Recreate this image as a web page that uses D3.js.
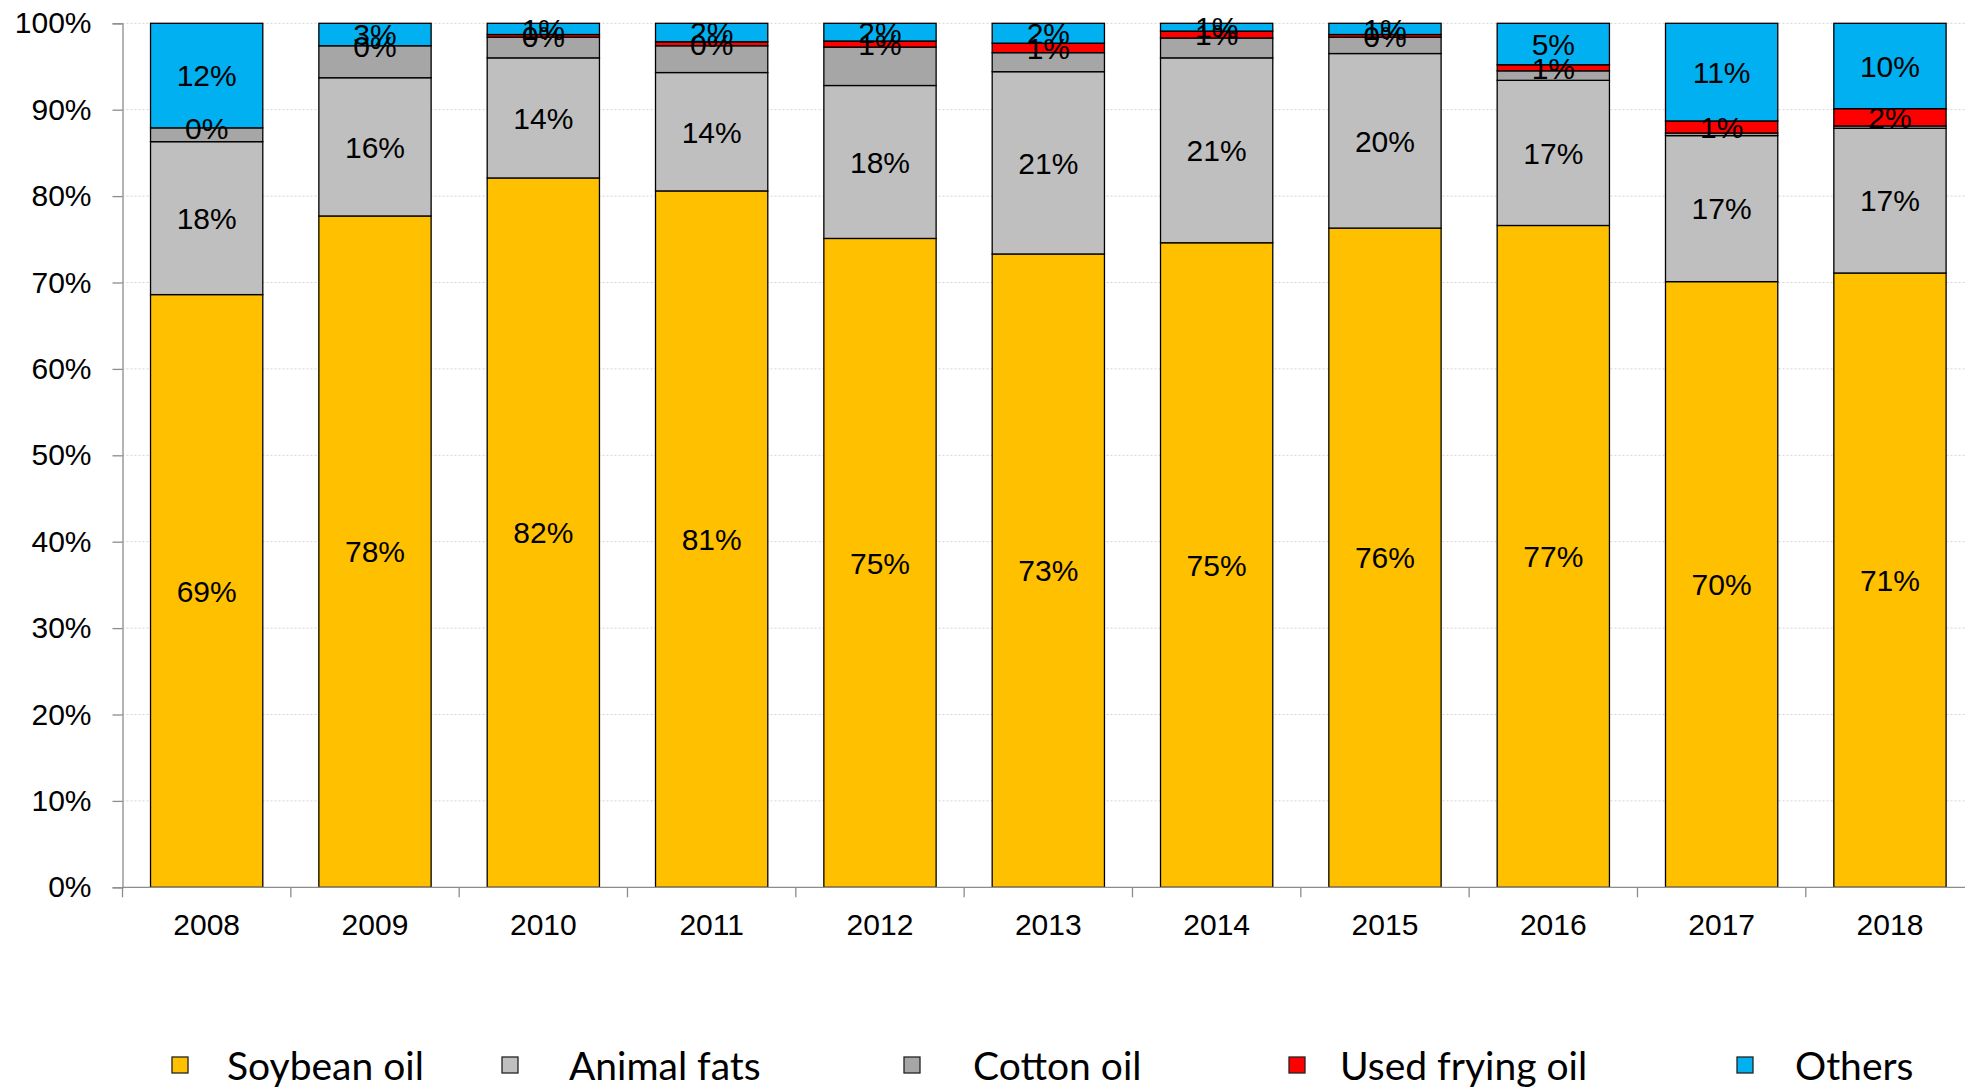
<!DOCTYPE html>
<html>
<head>
<meta charset="utf-8">
<script src="https://cdn.jsdelivr.net/npm/d3@7"></script>
<style>
  html, body { margin: 0; padding: 0; background: #fff; }
  svg { display: block; }
</style>
</head>
<body>
<svg id="chart" width="1965" height="1089"></svg>
<script>
// ---- data ----
const years = ["2008","2009","2010","2011","2012","2013","2014","2015","2016","2017","2018"];
const seriesNames = ["Soybean oil","Animal fats","Cotton oil","Used frying oil","Others"];
const soybeanOil    = [68.6, 77.7, 82.1, 80.6, 75.1, 73.3, 74.6, 76.3, 76.6, 70.1, 71.1];
const animalFats    = [17.7, 16.0, 13.9, 13.7, 17.7, 21.1, 21.4, 20.2, 16.8, 16.9, 16.75];
const cottonOil     = [1.6, 3.7, 2.4, 3.1, 4.45, 2.2, 2.3, 1.9, 1.1, 0.3, 0.27];
const usedFryingOil = [0.0, 0.0, 0.3, 0.46, 0.7, 1.1, 0.8, 0.3, 0.7, 1.4, 2.0];
const others        = [12.1, 2.6, 1.3, 2.14, 2.05, 2.3, 0.9, 1.3, 4.8, 11.3, 9.88];
const yTicks = [0,10,20,30,40,50,60,70,80,90,100];
const labelledSeries = ["Soybean oil","Animal fats","Used frying oil","Others"];

// ---- styles / layout ----
const colors = ["#FFC000","#BFBFBF","#A6A6A6","#FF0000","#00B0F0"];
const legendX = [172, 502, 904, 1289, 1737];
const legendTextX = [227, 569, 973, 1340, 1795];

const svg = d3.select("#chart");
const x0 = 122.5, step = 168.33, yTop = 23.3, yBot = 887.3;

const x = d3.scaleBand().domain(years)
  .range([x0, x0 + step * years.length])
  .paddingInner(0.333).paddingOuter(0.1665);
const y = d3.scaleLinear().domain([0,100]).range([yBot, yTop]);

const table = years.map((yr, i) => ({
  year: yr,
  "Soybean oil": soybeanOil[i],
  "Animal fats": animalFats[i],
  "Cotton oil": cottonOil[i],
  "Used frying oil": usedFryingOil[i],
  "Others": others[i]
}));
const stacked = d3.stack().keys(seriesNames)(table);

// gridlines
svg.append("g").selectAll("line").data(yTicks.filter(t => t > 0)).join("line")
  .attr("x1", x0).attr("x2", 1965)
  .attr("y1", d => y(d)).attr("y2", d => y(d))
  .attr("stroke", "#D4D4D4").attr("stroke-width", 1)
  .attr("stroke-dasharray", "2,2");

// bars
const gBars = svg.append("g");
stacked.forEach((s, si) => {
  gBars.append("g").selectAll("rect").data(s).join("rect")
    .attr("x", d => x(d.data.year))
    .attr("width", x.bandwidth())
    .attr("y", d => y(d[1]))
    .attr("height", d => Math.max(0, y(d[0]) - y(d[1])))
    .attr("fill", colors[si])
    .attr("stroke", "#000")
    .attr("stroke-width", 1.3);
});

// y axis
const yAxis = d3.axisLeft(y).tickValues(yTicks).tickFormat(d => d + "%").tickSize(10).tickPadding(21);
const gy = svg.append("g").attr("transform", `translate(${x0},0)`).call(yAxis);
gy.select(".domain").attr("stroke", "#8C8C8C").attr("stroke-width", 1.3);
gy.selectAll(".tick line").attr("stroke", "#8C8C8C").attr("stroke-width", 1.3);
gy.selectAll(".tick text").attr("font-family", "'Liberation Sans', Arial, sans-serif")
  .attr("font-size", 30).attr("fill", "#000");

// x axis
const xAxis = d3.axisBottom(x).tickSize(0).tickPadding(0);
const gx = svg.append("g").attr("transform", `translate(0,${yBot})`).call(xAxis);
gx.select(".domain").remove();
gx.append("line").attr("x1", x0).attr("x2", 1965).attr("y1", 0).attr("y2", 0)
  .attr("stroke", "#8C8C8C").attr("stroke-width", 1.3);
gx.selectAll(".tick text").attr("font-family", "'Liberation Sans', Arial, sans-serif")
  .attr("font-size", 30).attr("fill", "#000").attr("dy", null).attr("y", 48);
// category boundary ticks
gx.append("g").selectAll("line").data(d3.range(years.length + 1)).join("line")
  .attr("x1", i => x0 + i * x.step()).attr("x2", i => x0 + i * x.step())
  .attr("y1", 0).attr("y2", 10)
  .attr("stroke", "#8C8C8C").attr("stroke-width", 1.3);

// data labels
const gLab = svg.append("g");
stacked.forEach((s, si) => {
  if (!labelledSeries.includes(s.key)) return;
  gLab.append("g").selectAll("text").data(s).join("text")
    .attr("x", d => x(d.data.year) + x.bandwidth() / 2)
    .attr("y", d => y((d[0] + d[1]) / 2))
    .attr("dy", "0.36em")
    .attr("text-anchor", "middle")
    .attr("font-family", "'Liberation Sans', Arial, sans-serif")
    .attr("font-size", 30).attr("fill", "#000")
    .text(d => Math.round(d[1] - d[0]) + "%");
});

// legend
const gLeg = svg.append("g");
seriesNames.forEach((name, i) => {
  gLeg.append("rect").attr("x", legendX[i]).attr("y", 1057).attr("width", 16).attr("height", 16)
    .attr("fill", colors[i]).attr("stroke", "#222").attr("stroke-width", 1.3);
  gLeg.append("text").attr("x", legendTextX[i]).attr("y", 1080)
    .attr("font-family", "Lato, 'Open Sans', sans-serif").attr("font-size", 39).attr("fill", "#000")
    .text(name);
});
</script>
</body>
</html>
